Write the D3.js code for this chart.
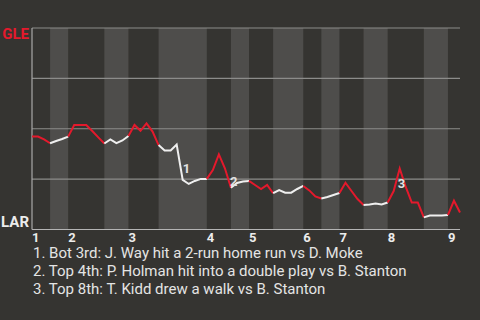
<!DOCTYPE html>
<html>
<head>
<meta charset="utf-8">
<script src="https://cdn.jsdelivr.net/npm/d3@7"></script>
<style>
  html, body { margin: 0; padding: 0; background: #353431; }
  svg { display: block; font-family: Roboto, "Noto Sans", sans-serif; }
</style>
</head>
<body>
<svg id="chart" width="480" height="320"></svg>
<script>
// GLE win probability (%) after each plate appearance
var winProb = [
  46.1, 46.1, 44.7, 42.8, 43.9, 44.9, 46.1, 51.9, 51.9, 51.9,
  48.9, 45.7, 42.7, 44.7, 42.9, 44.2, 46.4, 51.9, 49.0, 52.7,
  48.6, 41.9, 39.2, 39.2, 42.2, 24.6, 22.6, 24.1, 25.1, 25.1,
  29.5, 37.3, 30.4, 20.7, 23.1, 23.8, 24.1, 22.1, 20.1, 22.1,
  18.0, 19.6, 18.3, 18.3, 20.1, 21.6, 19.4, 16.4, 15.4, 16.1,
  17.1, 18.1, 23.2, 19.1, 15.1, 12.2, 12.4, 12.9, 12.4, 13.4,
  19.1, 30.3, 21.1, 13.4, 13.4, 6.0, 6.9, 6.9, 6.9, 7.2,
  14.3, 8.4
];
// plate appearances in each half inning (top 1, bot 1, top 2, ...)
var halfInningPA = [3, 3, 6, 4, 5, 8, 4, 3, 4, 5, 3, 3, 4, 4, 6, 4, 2];
var innings = ["1", "2", "3", "4", "5", "6", "7", "8", "9"];
var gridValues = [0, 25, 50, 75, 100];
var teams = { top: "GLE", bottom: "LAR" };
var keyPlays = [
  { label: "1", index: 25, text: "1. Bot 3rd: J. Way hit a 2-run home run vs D. Moke" },
  { label: "2", index: 33, text: "2. Top 4th: P. Holman hit into a double play vs B. Stanton" },
  { label: "3", index: 61, text: "3. Top 8th: T. Kidd drew a walk vs B. Stanton" }
];
var labelOffsets = [[0, -7], [-1, -2], [-2, 20]];

var svg = d3.select("#chart"),
  margin = { top: 28, right: 20, bottom: 90.5, left: 32 },
  width = 480 - margin.left - margin.right,
  height = 320 - margin.top - margin.bottom,
  red = "#e4192c",
  white = "#efefef";

var x = d3.scaleLinear().domain([0, winProb.length - 1]).range([0, width]),
  y = d3.scaleLinear().domain([0, 100]).range([height, 0]);

var g = svg.append("g")
  .attr("transform", "translate(" + margin.left + "," + margin.top + ")");

// half inning start indices
var starts = [0];
halfInningPA.forEach(function(n, i) { starts.push(starts[i] + n); });

var halves = halfInningPA.map(function(n, i) {
  return { start: starts[i], end: starts[i + 1], top: i % 2 === 0, inning: Math.floor(i / 2) };
});

// bands for the bottom halves
g.selectAll("rect.band")
  .data(halves.filter(function(d) { return !d.top; }))
  .enter().append("rect")
    .attr("class", "band")
    .attr("x", function(d) { return x(d.start); })
    .attr("y", 0)
    .attr("width", function(d) { return x(d.end) - x(d.start); })
    .attr("height", height)
    .attr("fill", "#4e4d4b");

// gridlines
g.selectAll("line.grid")
  .data(gridValues)
  .enter().append("line")
    .attr("class", "grid")
    .attr("x1", 0)
    .attr("x2", width)
    .attr("y1", function(d) { return y(d); })
    .attr("y2", function(d) { return y(d); })
    .attr("stroke", function(d) { return d === 0 ? "#b4b4b4" : "#8c8c8a"; })
    .attr("stroke-width", 1.2);

g.append("line")
  .attr("x1", 0).attr("x2", 0)
  .attr("y1", 0).attr("y2", height)
  .attr("stroke", "#a8a8a8")
  .attr("stroke-width", 1.2);

// win probability line, one piece per half inning
var line = d3.line()
  .x(function(d) { return x(d.i); })
  .y(function(d) { return y(d.v); });

g.selectAll("path.wp")
  .data(halves)
  .enter().append("path")
    .attr("class", "wp")
    .attr("d", function(d) {
      var pts = [];
      for (var i = d.start; i <= Math.min(d.end, winProb.length - 1); i++) {
        pts.push({ i: i, v: winProb[i] });
      }
      return line(pts);
    })
    .attr("fill", "none")
    .attr("stroke", function(d) { return d.top ? red : white; })
    .attr("stroke-width", 2);

// team labels
g.append("text")
  .attr("x", -3).attr("y", y(100) + 11)
  .attr("text-anchor", "end")
  .attr("font-size", 15).attr("font-weight", "bold")
  .attr("fill", red)
  .text(teams.top);

g.append("text")
  .attr("x", -3).attr("y", y(0) - 3)
  .attr("text-anchor", "end")
  .attr("font-size", 15).attr("font-weight", "bold")
  .attr("fill", "#ececec")
  .text(teams.bottom);

// inning labels
g.selectAll("text.inning")
  .data(halves.filter(function(d) { return d.top; }))
  .enter().append("text")
    .attr("class", "inning")
    .attr("x", function(d) { return x(d.start); })
    .attr("y", height + 12.5)
    .attr("font-size", 13).attr("font-weight", "bold")
    .attr("fill", "#ececec")
    .text(function(d) { return innings[d.inning]; });

// key play markers
g.selectAll("text.key")
  .data(keyPlays)
  .enter().append("text")
    .attr("class", "key")
    .attr("x", function(d, i) { return x(d.index) + labelOffsets[i][0]; })
    .attr("y", function(d, i) { return y(winProb[d.index]) + labelOffsets[i][1]; })
    .attr("font-size", 13).attr("font-weight", "bold")
    .attr("fill", "#e2e2e2")
    .text(function(d) { return d.label; });

// key play notes
svg.selectAll("text.note")
  .data(keyPlays)
  .enter().append("text")
    .attr("class", "note")
    .attr("x", 33)
    .attr("y", function(d, i) { return 258 + i * 18; })
    .attr("font-size", 15)
    .attr("fill", "#e4e4e4")
    .text(function(d) { return d.text; });
</script>
</body>
</html>
